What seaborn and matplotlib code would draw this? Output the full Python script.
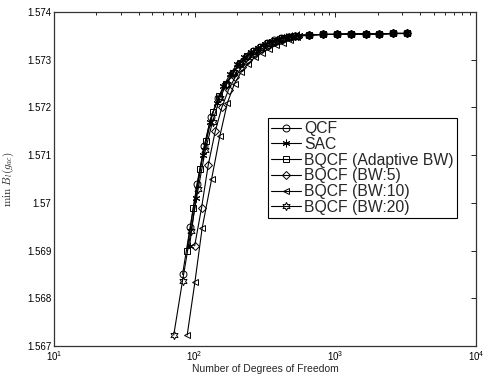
import numpy as np
import pandas as pd
import matplotlib
matplotlib.use("Agg")
import matplotlib.pyplot as plt
import seaborn as sns
from matplotlib.ticker import FuncFormatter, FixedLocator

# shared flat tail (all methods converge)
x_tail = [653, 813, 1021, 1290, 1640, 2042, 2580, 3213]
y_tail = [1.57352, 1.57353, 1.57353, 1.57354, 1.57354, 1.57354, 1.57355, 1.57355]

x_qcf = [82, 93, 104, 117, 131, 147, 165, 185, 207, 232, 260, 292, 327, 367, 412, 462, 518]
y_qcf = [1.5685, 1.5695, 1.5704, 1.5712, 1.5718, 1.5722, 1.57248, 1.5727, 1.57292, 1.57306,
         1.57318, 1.57327, 1.57335, 1.57341, 1.57345, 1.57348, 1.5735]

x_sac = [92, 102, 114, 128, 143, 160, 179, 200, 224, 251, 281, 315, 353, 395, 443, 496, 556]
y_sac = [1.5691, 1.5701, 1.5710, 1.5717, 1.5721, 1.57245, 1.5727, 1.5729, 1.57305, 1.57316,
         1.57325, 1.57333, 1.5734, 1.57344, 1.57348, 1.5735, 1.57351]

x_abw = [88, 98, 109, 121, 135, 150, 168, 188, 210, 235, 263, 295, 331, 371, 416, 466, 522]
y_abw = [1.5690, 1.5699, 1.5707, 1.5713, 1.5719, 1.57225, 1.5725, 1.57272, 1.57292, 1.57307,
         1.57318, 1.57327, 1.57335, 1.5734, 1.57345, 1.57348, 1.5735]

x_bw5 = [100, 112, 125, 140, 156, 174, 194, 216, 241, 269, 300, 335, 374, 418, 466, 520]
y_bw5 = [1.5691, 1.5699, 1.5708, 1.5715, 1.5720, 1.57237, 1.57263, 1.57285, 1.573, 1.57313,
         1.57323, 1.57331, 1.57338, 1.57343, 1.57347, 1.5735]

x_bw10 = [88.5, 100.5, 113, 132, 151, 171, 192, 215, 240, 268, 300, 336, 376, 425, 476, 533]
y_bw10 = [1.56723, 1.56835, 1.56947, 1.5705, 1.5714, 1.5721, 1.5725, 1.57275, 1.57292, 1.57305,
          1.57315, 1.57322, 1.5733, 1.57334, 1.57342, 1.57348]

x_bw20 = [71, 82, 94, 106, 119, 134, 151, 170, 191, 215, 241, 271, 305, 342, 384, 431, 484, 545]
y_bw20 = [1.56723, 1.56837, 1.5694, 1.5703, 1.5711, 1.5717, 1.5722, 1.5725, 1.57275, 1.57295,
          1.5731, 1.5732, 1.57329, 1.57336, 1.57341, 1.57345, 1.57348, 1.5735]

series = [
    ("QCF", x_qcf, y_qcf, "o"),
    ("SAC", x_sac, y_sac, (6, 2, 0)),
    ("BQCF (Adaptive BW)", x_abw, y_abw, "s"),
    ("BQCF (BW:5)", x_bw5, y_bw5, "D"),
    ("BQCF (BW:10)", x_bw10, y_bw10, "<"),
    ("BQCF (BW:20)", x_bw20, y_bw20, (6, 1, 0)),
]

sns.set_style("white")
plt.rcParams["font.family"] = ["Liberation Sans", "DejaVu Sans"]
plt.rcParams["mathtext.fontset"] = "cm"

fig = plt.figure(figsize=(4.83, 3.8), dpi=100)
ax = fig.add_axes([54 / 483, 34 / 380, 422 / 483, 334 / 380])

sizes = {"o": 5, "s": 4.5, "D": 4.2, "<": 5, (6, 2, 0): 5.5, (6, 1, 0): 6}
for name, xs, ys, m in series:
    df = pd.DataFrame({"dof": xs + x_tail, "val": ys + y_tail})
    sns.lineplot(data=df, x="dof", y="val", ax=ax, color="k", lw=0.8,
                 marker=m, markersize=sizes[m], markerfacecolor="none",
                 markeredgecolor="k", markeredgewidth=0.7, label=name)

ax.set_xscale("log")
ax.set_xlim(10, 1e4)
ax.set_ylim(1.567, 1.574)
ax.yaxis.set_major_locator(FixedLocator(np.arange(1.567, 1.5745, 0.001)))
ax.yaxis.set_major_formatter(FuncFormatter(lambda v, p: "%g" % round(v, 4)))

ax.tick_params(which="both", direction="in", top=True, right=True,
               labelsize=7, colors="k", pad=2)
ax.tick_params(which="major", length=3.5, width=0.6)
ax.tick_params(which="minor", length=2, width=0.6)
for s in ax.spines.values():
    s.set_color("#333333")
    s.set_linewidth(0.9)

ax.set_xlabel("Number of Degrees of Freedom", fontsize=7.5, labelpad=1)
ax.set_ylabel(r"$\min\ B_l(g_{ac})$", fontsize=8, labelpad=8)

leg = ax.legend(loc="upper right", bbox_to_anchor=(0.955, 0.683), fontsize=11.3,
                frameon=True, fancybox=False, framealpha=1, edgecolor="k",
                handlelength=1.9, handletextpad=0.2, labelspacing=0.05,
                borderpad=0.2, borderaxespad=0)
leg.get_frame().set_linewidth(0.8)

fig.savefig("out.png", dpi=100)
